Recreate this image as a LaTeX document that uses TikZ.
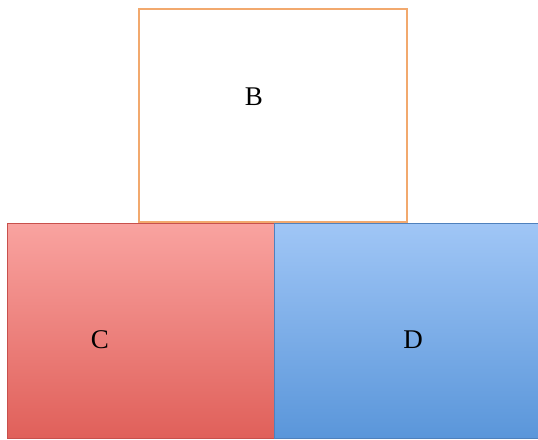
\documentclass[tikz,border=0pt]{standalone}
\usepackage{fontspec}
\setmainfont{Liberation Serif}
\definecolor{ctop}{HTML}{F9A3A0}
\definecolor{cbot}{HTML}{E0605A}
\definecolor{cline}{HTML}{C8504C}
\definecolor{dtop}{HTML}{A0C6F6}
\definecolor{dbot}{HTML}{5A96DA}
\definecolor{dline}{HTML}{4F81BD}
\definecolor{bline}{HTML}{F2A96E}
\begin{document}
\begin{tikzpicture}[x=1pt,y=-1pt,
  lbl/.style={font=\fontsize{27}{30}\selectfont, text=black}]
\useasboundingbox (0,0) rectangle (538,439);
\fill[white] (0,0) rectangle (538,439);
\shade[top color=ctop, bottom color=cbot, draw=cline, line width=1pt] (7,223) rectangle (274,438);
\shade[top color=dtop, bottom color=dbot, draw=dline, line width=1pt] (274,223) rectangle (540,438);
\draw[bline, fill=white, line width=2pt] (139,9) rectangle (407,222);
\node[lbl] (b) at (254,97) {B};
\node[lbl] (c) at (100,340) {C};
\node[lbl] (d) at (413,340) {D};
\end{tikzpicture}
\end{document}
